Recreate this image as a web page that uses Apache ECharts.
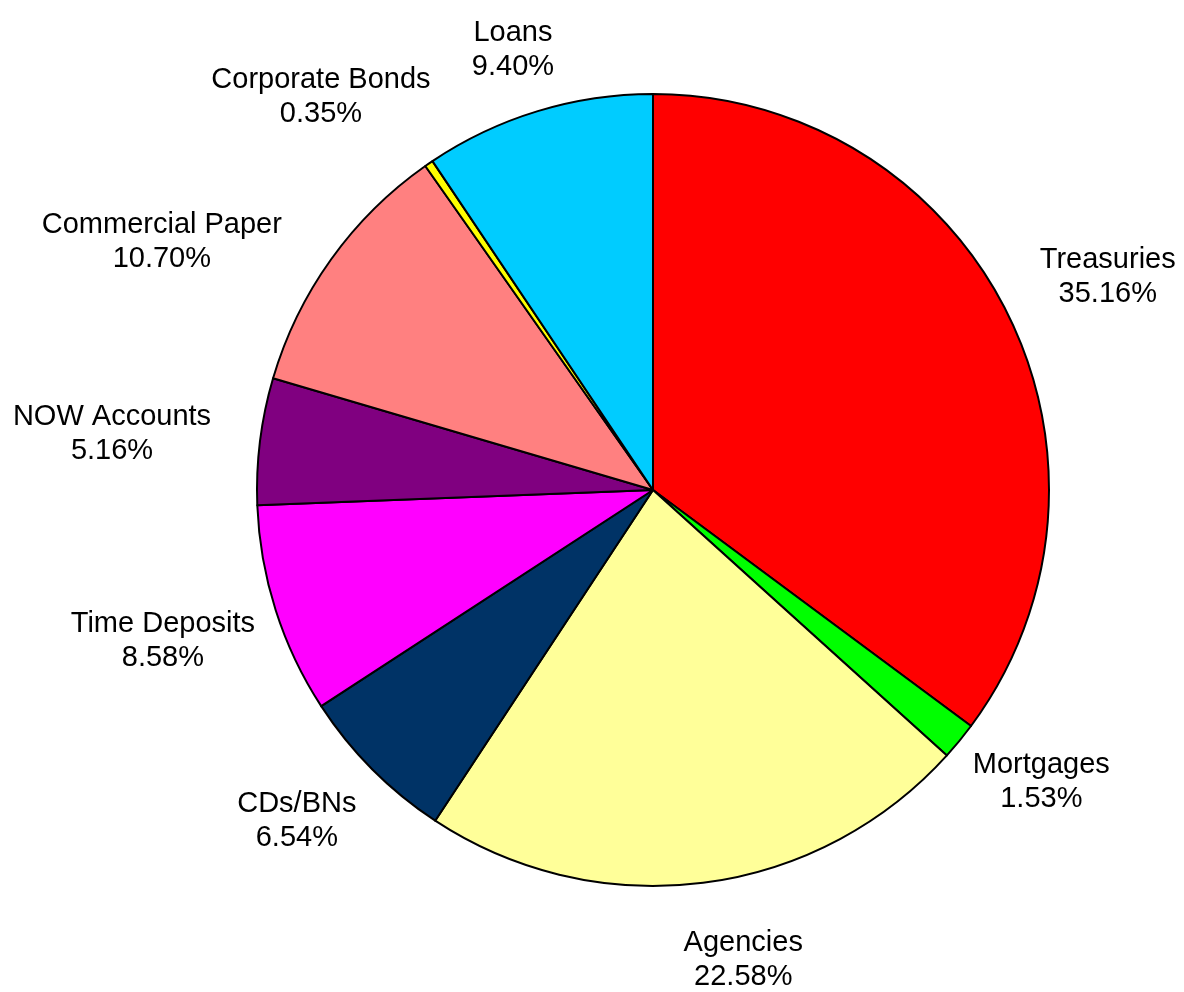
<!DOCTYPE html>
<html>
<head>
<meta charset="utf-8">
<script src="https://cdn.jsdelivr.net/npm/echarts@6/dist/echarts.min.js"></script>
<style>
html, body { margin: 0; padding: 0; background: #ffffff; }
#chart { width: 1184px; height: 992px; }
</style>
</head>
<body>
<div id="chart"></div>
<script>
// Data (percent of portfolio)
var categories = ['Treasuries', 'Mortgages', 'Agencies', 'CDs/BNs', 'Time Deposits',
                  'NOW Accounts', 'Commercial Paper', 'Corporate Bonds', 'Loans'];
var values = [35.16, 1.53, 22.58, 6.54, 8.58, 5.16, 10.70, 0.35, 9.40];
var colors = ['#FF0000', '#00FF00', '#FFFF99', '#003366', '#FF00FF',
              '#800080', '#FF8080', '#FFFF00', '#00CCFF'];

// Layout
var CENTER = [653, 490];
var RADIUS = 396;
var LABEL_GAP = 44;
// small manual label nudges (px) mimicking the original's label placement
var labelNudge = [[1, 0], [-5, -8], [27, 0], [-2, -3], [17, 7], [-6, 3], [-36, 28], [-21, -2], [0, 13]];

var seriesData = categories.map(function (name, i) {
  return { name: name, value: values[i], itemStyle: { color: colors[i] } };
});

var total = values.reduce(function (a, b) { return a + b; }, 0);

var chart = echarts.init(document.getElementById('chart'), null, { renderer: 'canvas' });
chart.setOption({
  backgroundColor: '#ffffff',
  animation: false,
  series: [{
    type: 'pie',
    center: CENTER,
    radius: RADIUS,
    startAngle: 90,
    clockwise: true,
    avoidLabelOverlap: false,
    data: seriesData,
    itemStyle: { borderColor: '#000000', borderWidth: 2 },
    emphasis: { disabled: true, scale: false },
    label: {
      show: true,
      position: 'outside',
      color: '#000000',
      fontFamily: 'Liberation Sans, Arial, sans-serif',
      fontSize: 29,
      lineHeight: 34,
      align: 'center',
      formatter: function (p) { return p.name + '\n' + p.value.toFixed(2) + '%'; }
    },
    labelLine: { show: true, length: 20, length2: 0, lineStyle: { opacity: 0, width: 0 } },
    labelLayout: function (p) {
      var w = p.labelRect.width, h = p.labelRect.height;
      var pts = p.labelLinePoints;
      var dx, dy, x0, y0;
      if (pts && pts.length >= 2 && (pts[1][0] !== pts[0][0] || pts[1][1] !== pts[0][1])) {
        var vx = pts[1][0] - pts[0][0], vy = pts[1][1] - pts[0][1];
        var L = Math.sqrt(vx * vx + vy * vy);
        dx = vx / L; dy = vy / L; x0 = pts[0][0]; y0 = pts[0][1];
      } else {
        var cum = 0;
        for (var i = 0; i < p.dataIndex; i++) cum += values[i];
        var mid = (cum + values[p.dataIndex] / 2) / total * 2 * Math.PI;
        dx = Math.sin(mid); dy = -Math.cos(mid);
        x0 = CENTER[0] + RADIUS * dx; y0 = CENTER[1] + RADIUS * dy;
      }
      var n = labelNudge[p.dataIndex] || [0, 0];
      return {
        x: x0 + dx * LABEL_GAP + dx * w / 2 + n[0],
        y: y0 + dy * LABEL_GAP + dy * h / 2 + n[1],
        align: 'center',
        verticalAlign: 'middle'
      };
    }
  }]
});
</script>
</body>
</html>
